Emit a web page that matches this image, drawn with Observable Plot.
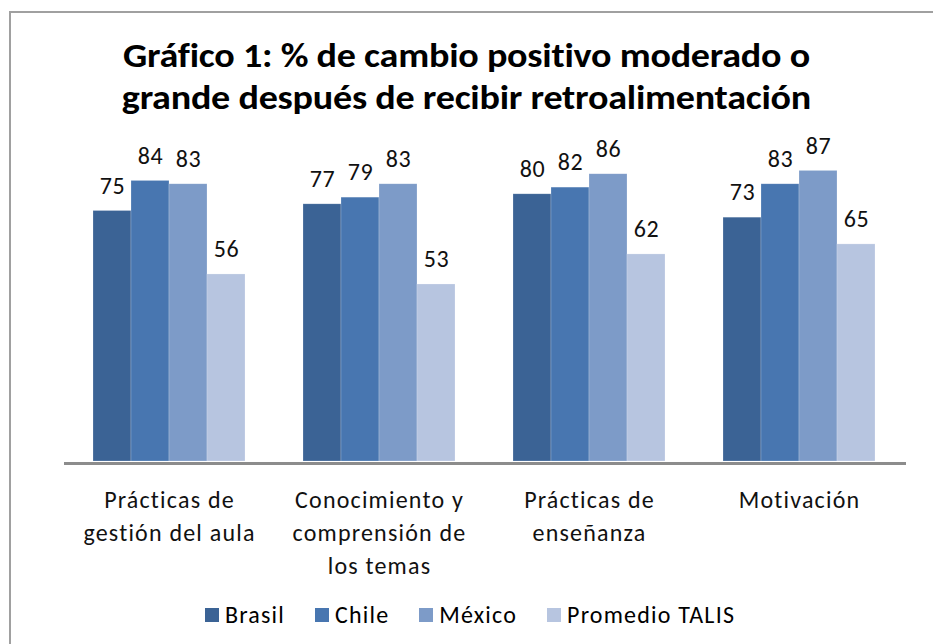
<!DOCTYPE html>
<html>
<head>
<meta charset="utf-8">
<script src="https://cdn.jsdelivr.net/npm/d3@7"></script>
<script src="https://cdn.jsdelivr.net/npm/@observablehq/plot@0.6"></script>
<style>
  html, body { margin: 0; padding: 0; background: #fff; }
  body { width: 933px; height: 644px; overflow: hidden; position: relative;
         font-family: Carlito, Calibri, Lato, sans-serif; color: #000; }
  #frame { position: absolute; left: 9px; top: 11px; width: 1000px; height: 1000px;
           border: 2px solid #a0a0a0; box-sizing: border-box; }
  #title { position: absolute; left: 0; top: 35px; width: 933px; text-align: center;
           font-weight: bold; font-size: 34px; line-height: 42px; letter-spacing: -0.2px;
           transform: scaleX(1.12); transform-origin: 467px 0; }
  #chart { position: absolute; left: 0; top: 125px; }
  #legend { position: absolute; left: 0; top: 600px; width: 940px; display: flex;
            justify-content: center; align-items: center; font-size: 24px; letter-spacing: 1.2px; }
  .item { display: flex; align-items: center; margin: 0 15px; }
  .sw { width: 14px; height: 14px; margin-right: 6px; }
  g[aria-label="fx-axis tick label"] text { letter-spacing: 1.2px; }
  g[aria-label="text"] text { letter-spacing: 0.5px; }
</style>
</head>
<body>
<div id="frame"></div>
<div id="title">Gráfico 1: % de cambio positivo moderado o<br>grande después de recibir retroalimentación</div>
<div id="chart"></div>
<div id="legend"></div>
<script>
const categories = ["Prácticas de gestión del aula", "Conocimiento y comprensión de los temas", "Prácticas de enseñanza", "Motivación"];
const tickLabels = ["Prácticas de\ngestión del aula", "Conocimiento y\ncomprensión de\nlos temas", "Prácticas de\nenseñanza", "Motivación"];
const series = ["Brasil", "Chile", "México", "Promedio TALIS"];
const brasil = [75, 77, 80, 73];
const chile = [84, 79, 82, 83];
const mexico = [83, 83, 86, 87];
const talis = [56, 53, 62, 65];
const colors = ["#3b6395", "#4876b0", "#7d9bc8", "#b7c5e0"];

const values = [brasil, chile, mexico, talis];
const rows = [];
categories.forEach((c, i) => series.forEach((s, j) => rows.push({category: c, series: s, value: values[j][i]})));
const labelOf = new Map(categories.map((c, i) => [c, tickLabels[i]]));

const font = "Carlito, Calibri, Lato, sans-serif";
const chart = Plot.plot({
  width: 933,
  height: 460,
  marginTop: 2,
  marginBottom: 124,
  marginLeft: 63,
  marginRight: 29,
  style: {fontFamily: font, background: "transparent", overflow: "visible", color: "#000"},
  fx: {domain: categories, paddingInner: 0.268, paddingOuter: 0.134},
  x: {domain: series, padding: 0, axis: null},
  y: {domain: [0, 100], axis: null},
  color: {domain: series, range: colors},
  marks: [
    Plot.barY(rows, {fx: "category", x: "series", y: "value", fill: "series",
      stroke: "#ffffff", strokeOpacity: 0.35, strokeWidth: 0.6}),
    Plot.ruleY([0], {stroke: "#8c8c8c", strokeWidth: 3, dy: 2, insetLeft: -28, insetRight: -30}),
    Plot.text(rows, {fx: "category", x: "series", y: "value", text: d => String(d.value),
      dy: -25, fontSize: 24, fill: "#111"}),
    Plot.axisFx({anchor: "bottom", tickSize: 0, tickPadding: 23, fontSize: 24, lineHeight: 1.37,
      tickFormat: d => labelOf.get(d), label: null, fill: "#111"})
  ]
});
document.getElementById("chart").appendChild(chart);

const legend = document.getElementById("legend");
series.forEach((s, i) => {
  const item = document.createElement("div");
  item.className = "item";
  const sw = document.createElement("div");
  sw.className = "sw";
  sw.style.background = colors[i];
  const t = document.createElement("span");
  t.textContent = s;
  item.appendChild(sw);
  item.appendChild(t);
  legend.appendChild(item);
});
</script>
</body>
</html>
